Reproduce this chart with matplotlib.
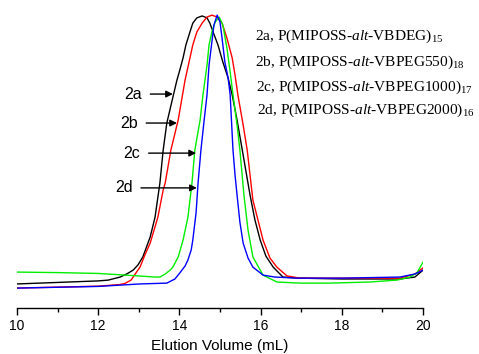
import matplotlib
matplotlib.use("Agg")
import matplotlib.pyplot as plt
from matplotlib.ticker import MultipleLocator

plt.rcParams['font.family'] = ['Liberation Sans', 'DejaVu Sans']
plt.rcParams['mathtext.fontset'] = 'custom'
plt.rcParams['mathtext.rm'] = 'Liberation Serif'
plt.rcParams['mathtext.it'] = 'Liberation Serif:italic'

# elution traces, normalised detector signal
vol_2a = [10.00, 12.00, 12.25, 12.54, 12.70, 12.86, 12.98, 13.10, 13.28, 13.40, 13.52, 13.60,
          13.69, 13.84, 13.94, 14.01, 14.09, 14.16, 14.26, 14.33, 14.43, 14.56, 14.68, 14.75,
          14.83, 14.95, 15.07, 15.20, 15.30, 15.42, 15.57, 15.74, 15.86, 15.99, 16.13, 16.31,
          16.55, 16.97, 18.00, 19.43, 19.80, 20.00]
sig_2a = [0.022, 0.033, 0.036, 0.047, 0.058, 0.072, 0.091, 0.120, 0.192, 0.264, 0.388, 0.507,
          0.605, 0.699, 0.761, 0.797, 0.841, 0.888, 0.935, 0.967, 0.986, 0.993, 0.986, 0.967,
          0.935, 0.888, 0.826, 0.768, 0.707, 0.616, 0.489, 0.344, 0.254, 0.181, 0.123, 0.083,
          0.047, 0.043, 0.040, 0.040, 0.047, 0.072]

vol_2b = [10.00, 12.00, 12.54, 12.66, 12.81, 12.93, 13.03, 13.15, 13.28, 13.47, 13.60, 13.65,
          13.79, 13.97, 14.14, 14.26, 14.33, 14.43, 14.56, 14.68, 14.80, 14.93, 15.05, 15.17,
          15.30, 15.37, 15.44, 15.57, 15.67, 15.81, 16.06, 16.23, 16.40, 16.65, 16.97, 18.00,
          19.43, 19.80, 20.00]
sig_2b = [0.007, 0.014, 0.020, 0.024, 0.036, 0.062, 0.083, 0.127, 0.170, 0.264, 0.362, 0.388,
          0.507, 0.616, 0.761, 0.841, 0.888, 0.935, 0.967, 0.989, 0.996, 0.989, 0.967, 0.913,
          0.841, 0.779, 0.707, 0.598, 0.507, 0.326, 0.181, 0.116, 0.083, 0.051, 0.043, 0.043,
          0.043, 0.058, 0.080]

vol_2c = [10.00, 11.05, 12.00, 12.79, 13.40, 13.52, 13.65, 13.77, 13.84, 13.97, 14.09, 14.21,
          14.31, 14.38, 14.51, 14.58, 14.68, 14.73, 14.80, 14.88, 14.98, 15.07, 15.17, 15.25,
          15.32, 15.42, 15.49, 15.59, 15.69, 15.81, 16.06, 16.40, 16.97, 17.71, 18.69, 19.36,
          19.68, 19.85, 20.00]
sig_2c = [0.065, 0.063, 0.060, 0.053, 0.047, 0.047, 0.058, 0.072, 0.083, 0.120, 0.181, 0.264,
          0.388, 0.507, 0.616, 0.707, 0.815, 0.888, 0.935, 0.971, 0.989, 0.960, 0.877, 0.790,
          0.707, 0.598, 0.507, 0.344, 0.217, 0.120, 0.054, 0.029, 0.025, 0.025, 0.029, 0.036,
          0.047, 0.062, 0.101]

vol_2d = [10.00, 12.00, 13.03, 13.69, 13.89, 14.01, 14.14, 14.21, 14.29, 14.33, 14.41, 14.46,
          14.53, 14.61, 14.68, 14.73, 14.80, 14.85, 14.93, 15.00, 15.05, 15.12, 15.20, 15.25,
          15.32, 15.37, 15.42, 15.49, 15.57, 15.69, 15.81, 16.06, 16.35, 16.90, 18.00, 19.43,
          19.80, 20.00]
sig_2d = [0.007, 0.013, 0.022, 0.025, 0.040, 0.062, 0.087, 0.109, 0.145, 0.181, 0.279, 0.388,
          0.507, 0.616, 0.707, 0.815, 0.899, 0.960, 0.996, 0.971, 0.913, 0.826, 0.768, 0.707,
          0.507, 0.417, 0.344, 0.246, 0.170, 0.116, 0.083, 0.054, 0.047, 0.043, 0.043, 0.047,
          0.058, 0.072]

legend_text = [r'2a, P(MIPOSS-$\mathit{alt}$-VBDEG)$_{15}$',
               r'2b, P(MIPOSS-$\mathit{alt}$-VBPEG550)$_{18}$',
               r'2c, P(MIPOSS-$\mathit{alt}$-VBPEG1000)$_{17}$',
               r'2d, P(MIPOSS-$\mathit{alt}$-VBPEG2000)$_{16}$']

fig = plt.figure(figsize=(4.79, 3.54), dpi=100)
ax = fig.add_axes([0.0355, 0.1299, 0.8476, 0.8418])

ax.plot(vol_2a, sig_2a, color='black', lw=1.0)
ax.plot(vol_2b, sig_2b, color='#ff0000', lw=1.0)
ax.plot(vol_2c, sig_2c, color='#00ee00', lw=1.0)
ax.plot(vol_2d, sig_2d, color='#0000ff', lw=1.0)

ax.set_xlim(10, 20)
ax.set_ylim(-0.0652, 1.0145)
for s in ['top', 'right', 'left']:
    ax.spines[s].set_visible(False)
ax.spines['bottom'].set_linewidth(1.0)
ax.set_yticks([])
ax.xaxis.set_major_locator(MultipleLocator(2))
ax.xaxis.set_minor_locator(MultipleLocator(1))
ax.tick_params(axis='x', which='major', direction='out', length=5, width=1.0, labelsize=10, pad=3)
ax.tick_params(axis='x', which='minor', direction='out', length=3, width=1.0)
ax.set_xlabel('Elution Volume (mL)', fontsize=11, labelpad=4)

# arrows pointing at the traces
arrow_labels = ['2a', '2b', '2c', '2d']
arrow_tips = [(13.84, 0.710), (13.94, 0.605), (14.41, 0.496), (14.43, 0.370)]
label_pos = [(12.86, 0.710), (12.76, 0.605), (12.83, 0.496), (12.63, 0.370)]
for lab, tip, pos in zip(arrow_labels, arrow_tips, label_pos):
    ax.annotate(lab, xy=tip, xytext=pos, ha='center', va='center', fontsize=11.5,
                arrowprops=dict(arrowstyle='-|>', color='black', lw=1.0,
                                shrinkA=4, shrinkB=0, mutation_scale=10))

rows_y = [36, 62, 87, 110]
rows_x = [255, 255, 256, 257]
for t, px, py in zip(legend_text, rows_x, rows_y):
    fig.text(px / 479, 1 - py / 354, t, ha='left', va='center', fontsize=11.1,
             family='Liberation Serif')

fig.savefig('out.png', dpi=100)
